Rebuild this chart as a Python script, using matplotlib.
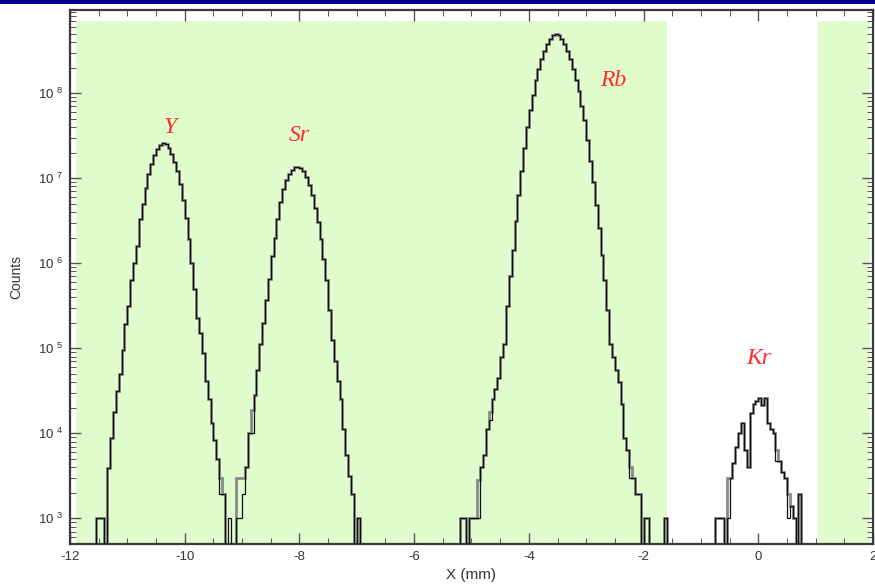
import numpy as np
import matplotlib
matplotlib.use("Agg")
from matplotlib import pyplot as plt
from matplotlib.patches import Rectangle
from matplotlib.ticker import MultipleLocator, LogLocator, NullFormatter, FixedLocator

plt.rcParams['font.family'] = ['Liberation Sans', 'DejaVu Sans']
plt.rcParams['mathtext.fontset'] = 'custom'
plt.rcParams['mathtext.rm'] = 'Liberation Sans'
plt.rcParams['axes.unicode_minus'] = False

## Histogram data: log10(counts) per 0.05 mm bin, segment start = left bin edge
bin_width = 0.05
y_start = -11.55
y_log = [3.0, 3.0, 3.0, 0,
         3.59, 3.95, 4.25, 4.50, 4.70, 4.98, 5.28, 5.50, 5.80, 6.00,
         6.20, 6.52, 6.70, 6.88, 7.05, 7.17, 7.27, 7.34, 7.39, 7.41,
         7.40, 7.35, 7.28, 7.19, 7.08, 6.93, 6.74, 6.53, 6.28, 6.00,
         5.70, 5.36, 5.18, 4.95, 4.62, 4.40, 4.12, 3.92, 3.70, 3.47, 3.29]
sr_start = -9.10
sr_log = [3.48, 3.48, 3.48, 3.60, 4.00, 4.27, 4.45, 4.75, 5.05, 5.30,
          5.57, 5.82, 6.08, 6.30, 6.52, 6.72, 6.87, 6.98, 7.05, 7.10,
          7.13, 7.13, 7.12, 7.08, 7.02, 6.92, 6.80, 6.65, 6.48, 6.28,
          6.05, 5.80, 5.45, 5.10, 4.85, 4.62, 4.40, 4.05, 3.75, 3.50,
          3.29, 0, 3.0]
rb_start = -5.20
rb_log = [3.0, 3.0, 0, 3.0, 3.0, 3.0,
          3.45, 3.60, 3.75, 4.05, 4.25, 4.40, 4.52, 4.65, 4.90, 5.05,
          5.50, 5.85, 6.15, 6.50, 6.80, 7.08, 7.35, 7.60, 7.80, 7.98,
          8.15, 8.28, 8.40, 8.50, 8.58, 8.64, 8.68, 8.69, 8.68, 8.64,
          8.58, 8.50, 8.40, 8.28, 8.15, 8.02, 7.85, 7.68, 7.45, 7.20,
          6.95, 6.68, 6.42, 6.10, 5.80, 5.45, 5.05, 4.90, 4.75, 4.60,
          4.35, 3.95, 3.80, 3.60, 3.47, 3.29, 3.29, 0, 3.0, 3.0,
          0, 0, 0, 0, 0, 3.0]
kr_start = -0.75
kr_log = [3.0, 3.0, 3.0, 0, 3.47, 3.47, 3.65, 3.84, 4.00, 4.12,
          3.80, 3.60, 4.24, 4.35, 4.38, 4.41, 4.33, 4.41, 4.12, 4.05,
          4.00, 3.80, 3.68, 3.55, 3.47, 3.29, 3.15, 3.00, 0, 3.29]
# second (black) histogram: bins where it differs from the grey one
black_edges = [-9.40, -9.25, -9.10, -9.05, -9.00, -8.85, -4.90, -4.70, -2.25, -0.55, -0.40, 0.30, 0.50]
black_log = [3.29, 3.0, 3.0, 3.0, 3.29, 4.0, 3.0, 4.16, 3.47, 3.0, 3.84, 3.68, 3.0]

# shaded (green) regions and element labels
green_x0 = [-11.9, 1.04]
green_x1 = [-1.6, 1.95]
green_top = 7e8
labels = ['Y', 'Sr', 'Rb', 'Kr']
label_x = [-10.26, -8.0, -2.52, 0.0]
label_y = [3.9e7, 3.2e7, 1.4e8, 7.6e4]

# Build full grid
edges = np.round(np.arange(-12, 2 + bin_width / 2, bin_width), 4)
grey = np.zeros(len(edges) - 1)
for start, seg in [(y_start, y_log), (sr_start, sr_log), (rb_start, rb_log), (kr_start, kr_log)]:
    i0 = int(round((start + 12) / bin_width))
    grey[i0:i0 + len(seg)] = seg
black = grey.copy()
for e, v in zip(black_edges, black_log):
    black[int(round((e + 12) / bin_width))] = v

fig = plt.figure(figsize=(8.75, 5.88), dpi=100)
ax = fig.add_axes([70 / 875, 44 / 588, 803 / 875, 534 / 588])
ax.set_yscale('log')
ax.set_xlim(-12, 2)
ax.set_ylim(500, 9.5e8)

for x0, x1 in zip(green_x0, green_x1):
    ax.add_patch(Rectangle((x0, 500), x1 - x0, green_top - 500, facecolor='#e0fbcc',
                           edgecolor='none', zorder=0))

ax.stairs(10 ** grey, edges, baseline=None, color='#8a8a8a', linewidth=2.0, zorder=2)
ax.stairs(10 ** black, edges, baseline=None, color='#111111', linewidth=0.9, zorder=3)

for lab, lx, ly in zip(labels, label_x, label_y):
    ax.text(lx, ly, lab, color='#ff2a2a', fontsize=17, style='italic',
            family='Liberation Serif', ha='center', va='center', zorder=4)

# axes styling
ax.xaxis.set_major_locator(MultipleLocator(2))
ax.xaxis.set_minor_locator(MultipleLocator(0.5))
ax.set_xticks(np.arange(-12, 3, 2))
ax.set_xticklabels([str(v) for v in range(-12, 3, 2)])
yt = [1e3, 1e4, 1e5, 1e6, 1e7, 1e8]
ax.yaxis.set_major_locator(FixedLocator(yt))
ax.set_yticklabels(['10 $^{%d}$' % p for p in range(3, 9)])
ax.yaxis.set_minor_locator(LogLocator(base=10, subs=np.arange(2, 10)))
ax.yaxis.set_minor_formatter(NullFormatter())
ax.tick_params(which='both', direction='in', top=True, right=True, color='#555555',
               labelcolor='#333333', labelsize=9.5)
ax.tick_params(which='major', length=8, width=1.0, pad=5)
ax.tick_params(which='minor', length=4, width=0.7)
for s in ax.spines.values():
    s.set_color('#3a3a3a')
    s.set_linewidth(1.6)

ax.set_xlabel('X (mm)', fontsize=11, color='#333333', labelpad=4)
ax.set_ylabel('Counts', fontsize=10, color='#333333', labelpad=10)

# dark blue band at top of the slide
fig.add_artist(Rectangle((0, 1 - 4 / 588), 1, 4 / 588, transform=fig.transFigure,
                         facecolor='#000090', edgecolor='none'))

plt.savefig('out.png', dpi=100)
